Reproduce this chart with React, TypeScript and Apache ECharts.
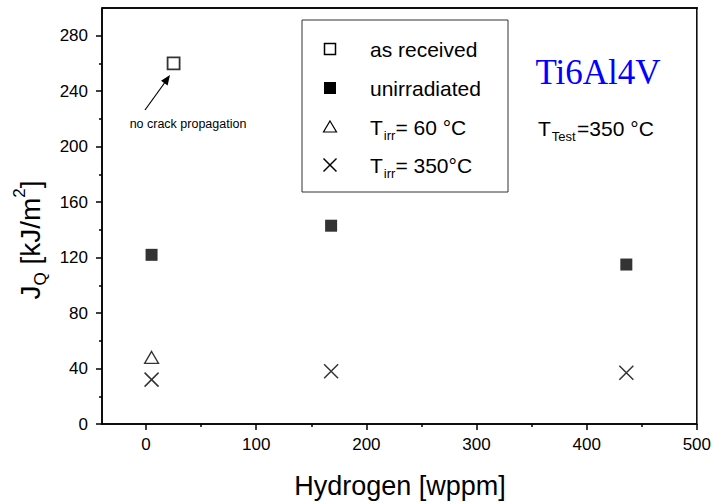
import React, { useEffect, useRef } from "react";
import * as echarts from "echarts";

// ---- data ----
const xTickValues = [0, 100, 200, 300, 400, 500];
const xMinorTickValues = [50, 150, 250, 350, 450];
const yTickValues = [0, 40, 80, 120, 160, 200, 240, 280];
const yMinorTickValues = [20, 60, 100, 140, 180, 220, 260];

const asReceived = [[25, 260]];
const unirradiated = [
  [5, 122],
  [168, 143],
  [436, 115],
];
const irr60 = [[5, 48]];
const irr350 = [
  [5, 32],
  [168, 38],
  [436, 37],
];

const FONT = "Liberation Sans, Arial, sans-serif";
const CROSS = "path://M0,0L10,10M10,0L0,10";

export default function App() {
  const ref = useRef<HTMLDivElement>(null);

  useEffect(() => {
    if (!ref.current) return;
    const chart = echarts.init(ref.current, undefined, { renderer: "svg" });

    const legendX = 330;
    const textX = 370;
    const rows = [49, 88, 127, 165];
    const lf = 21;
    const Z = 12;

    const widths: Record<string, number> = { i: 0.222, r: 0.333, T: 0.611, e: 0.556, s: 0.5, t: 0.278 };
    const tText = (x: number, y: number, main: string, sub: string, rest: string, fs: number) => {
      const subFs = Math.round(fs * 0.62);
      const wT = fs * 0.611;
      const subW = sub.split("").reduce((a, c) => a + widths[c] * subFs, 0);
      return [
        { type: "text", z: Z, style: { text: main, x, y, fontSize: fs, fontFamily: FONT, fill: "#000", verticalAlign: "middle" } },
        { type: "text", z: Z, style: { text: sub, x: x + wT + 1, y: y + fs * 0.4, fontSize: subFs, fontFamily: FONT, fill: "#000", verticalAlign: "middle" } },
        { type: "text", z: Z, style: { text: rest, x: x + wT + 1 + subW, y, fontSize: fs, fontFamily: FONT, fill: "#000", verticalAlign: "middle" } },
      ];
    };

    // y-axis title pieces (rotated group)
    const yf = 28;
    const ysub = 17;
    const yParts = [
      { t: "J", w: 0.5 * yf, fs: yf, dy: 0 },
      { t: "Q", w: 0.778 * ysub, fs: ysub, dy: yf * 0.38 },
      { t: " [kJ/m", w: 2.667 * yf, fs: yf, dy: 0 },
      { t: "2", w: 0.556 * ysub, fs: ysub, dy: -yf * 0.38 },
      { t: "]", w: 0.278 * yf, fs: yf, dy: 0 },
    ];
    const totalW = yParts.reduce((a, p) => a + p.w, 0);
    let cx = -totalW / 2;
    const yTitleChildren = yParts.map((p) => {
      const el = {
        type: "text",
        z: Z,
        style: { text: p.t, x: cx, y: p.dy, fontSize: p.fs, fontFamily: FONT, fill: "#000", verticalAlign: "middle" },
      };
      cx += p.w;
      return el;
    });

    const option: any = {
      animation: false,
      backgroundColor: "#fff",
      grid: {
        left: 102,
        right: 16,
        top: 8,
        bottom: 80,
        show: true,
        borderColor: "#000",
        borderWidth: 1.5,
        backgroundColor: "transparent",
      },
      xAxis: [
        {
          type: "value",
          min: -40,
          max: 500,
          position: "bottom",
          axisLine: { show: true, onZero: false, lineStyle: { color: "#000", width: 1.5 } },
          axisTick: { show: true, customValues: xTickValues, length: 6, lineStyle: { color: "#000", width: 1.5 } },
          axisLabel: { show: true, customValues: xTickValues, fontSize: 17, color: "#000", fontFamily: FONT, margin: 12 },
          splitLine: { show: false },
        },
        {
          type: "value",
          min: -40,
          max: 500,
          position: "bottom",
          axisLine: { show: false, onZero: false },
          axisTick: { show: true, customValues: xMinorTickValues, length: 3, lineStyle: { color: "#000", width: 1.5 } },
          axisLabel: { show: false },
          splitLine: { show: false },
        },
      ],
      yAxis: [
        {
          type: "value",
          min: 0,
          max: 300,
          position: "left",
          axisLine: { show: true, onZero: false, lineStyle: { color: "#000", width: 1.5 } },
          axisTick: { show: true, customValues: yTickValues, length: 6, lineStyle: { color: "#000", width: 1.5 } },
          axisLabel: { show: true, customValues: yTickValues, fontSize: 17, color: "#000", fontFamily: FONT, margin: 14 },
          splitLine: { show: false },
        },
        {
          type: "value",
          min: 0,
          max: 300,
          position: "left",
          axisLine: { show: false, onZero: false },
          axisTick: { show: true, customValues: yMinorTickValues, length: 3, lineStyle: { color: "#000", width: 1.5 } },
          axisLabel: { show: false },
          splitLine: { show: false },
        },
      ],
      series: [
        {
          name: "as received",
          type: "scatter",
          data: asReceived,
          symbol: "rect",
          symbolSize: 12,
          itemStyle: { color: "#fff", borderColor: "#000", borderWidth: 1.8 },
        },
        {
          name: "unirradiated",
          type: "scatter",
          data: unirradiated,
          symbol: "rect",
          symbolSize: 12,
          itemStyle: { color: "#000" },
        },
        {
          name: "Tirr= 60 °C",
          type: "scatter",
          data: irr60,
          symbol: "triangle",
          symbolSize: [14, 12],
          itemStyle: { color: "#fff", borderColor: "#000", borderWidth: 1.3 },
        },
        {
          name: "Tirr= 350°C",
          type: "scatter",
          data: irr350,
          symbol: CROSS,
          symbolSize: 14,
          itemStyle: { color: "none", borderColor: "#000", borderWidth: 1.5 },
        },
      ],
      graphic: [
        // plot frame top edge
        { type: "line", shape: { x1: 102, y1: 8, x2: 698, y2: 8 }, style: { stroke: "#000", lineWidth: 1.5 }, z: Z },
        // legend box
        { type: "rect", shape: { x: 302, y: 20, width: 206, height: 172 }, style: { fill: "#fff", stroke: "#333", lineWidth: 1 }, z: 10 },
        { type: "rect", shape: { x: legendX - 5.5, y: rows[0] - 5.5, width: 11, height: 11 }, style: { fill: "#fff", stroke: "#000", lineWidth: 1.5 }, z: Z },
        { type: "rect", shape: { x: legendX - 6, y: rows[1] - 6, width: 12, height: 12 }, style: { fill: "#000" }, z: Z },
        {
          type: "polygon",
          shape: { points: [[legendX, rows[2] - 6], [legendX + 6.5, rows[2] + 5], [legendX - 6.5, rows[2] + 5]] },
          style: { fill: "#fff", stroke: "#000", lineWidth: 1.2 },
          z: Z,
        },
        { type: "line", shape: { x1: legendX - 6.5, y1: rows[3] - 6.5, x2: legendX + 6.5, y2: rows[3] + 6.5 }, style: { stroke: "#000", lineWidth: 1.5 }, z: Z },
        { type: "line", shape: { x1: legendX + 6.5, y1: rows[3] - 6.5, x2: legendX - 6.5, y2: rows[3] + 6.5 }, style: { stroke: "#000", lineWidth: 1.5 }, z: Z },
        { type: "text", z: Z, style: { text: "as received", x: textX, y: rows[0], fontSize: lf, fontFamily: FONT, fill: "#000", verticalAlign: "middle" } },
        { type: "text", z: Z, style: { text: "unirradiated", x: textX, y: rows[1], fontSize: lf, fontFamily: FONT, fill: "#000", verticalAlign: "middle" } },
        { type: "group", z: Z, children: tText(textX, rows[2], "T", "irr", "= 60 °C", lf) },
        { type: "group", z: Z, children: tText(textX, rows[3], "T", "irr", "= 350°C", lf) },
        // material label
        { type: "text", z: Z, style: { text: "Ti6Al4V", x: 598, y: 72, fontSize: 35, fontFamily: "Liberation Serif, Times New Roman, serif", fill: "#0000ff", align: "center", verticalAlign: "middle" } },
        { type: "group", z: Z, children: tText(538, 128, "T", "Test", "=350 °C", 21) },
        // annotation arrow
        { type: "line", shape: { x1: 145, y1: 110, x2: 164.5, y2: 83 }, style: { stroke: "#000", lineWidth: 1.2 }, z: Z },
        { type: "polygon", shape: { points: [[170, 75], [167.6, 85.4], [161, 80.8]] }, style: { fill: "#000" }, z: Z },
        { type: "text", z: Z, style: { text: "no crack propagation", x: 188, y: 124, fontSize: 12.5, fontFamily: FONT, fill: "#000", align: "center", verticalAlign: "middle" } },
        // axis titles
        { type: "text", z: Z, style: { text: "Hydrogen [wppm]", x: 400, y: 486, fontSize: 27, fontFamily: FONT, fill: "#000", align: "center", verticalAlign: "middle" } },
        { type: "group", x: 30, y: 240, rotation: Math.PI / 2, z: Z, children: yTitleChildren },
      ],
    };

    chart.setOption(option);
    return () => chart.dispose();
  }, []);

  return <div ref={ref} style={{ position: "fixed", left: 0, top: 0, width: 714, height: 504 }} />;
}
